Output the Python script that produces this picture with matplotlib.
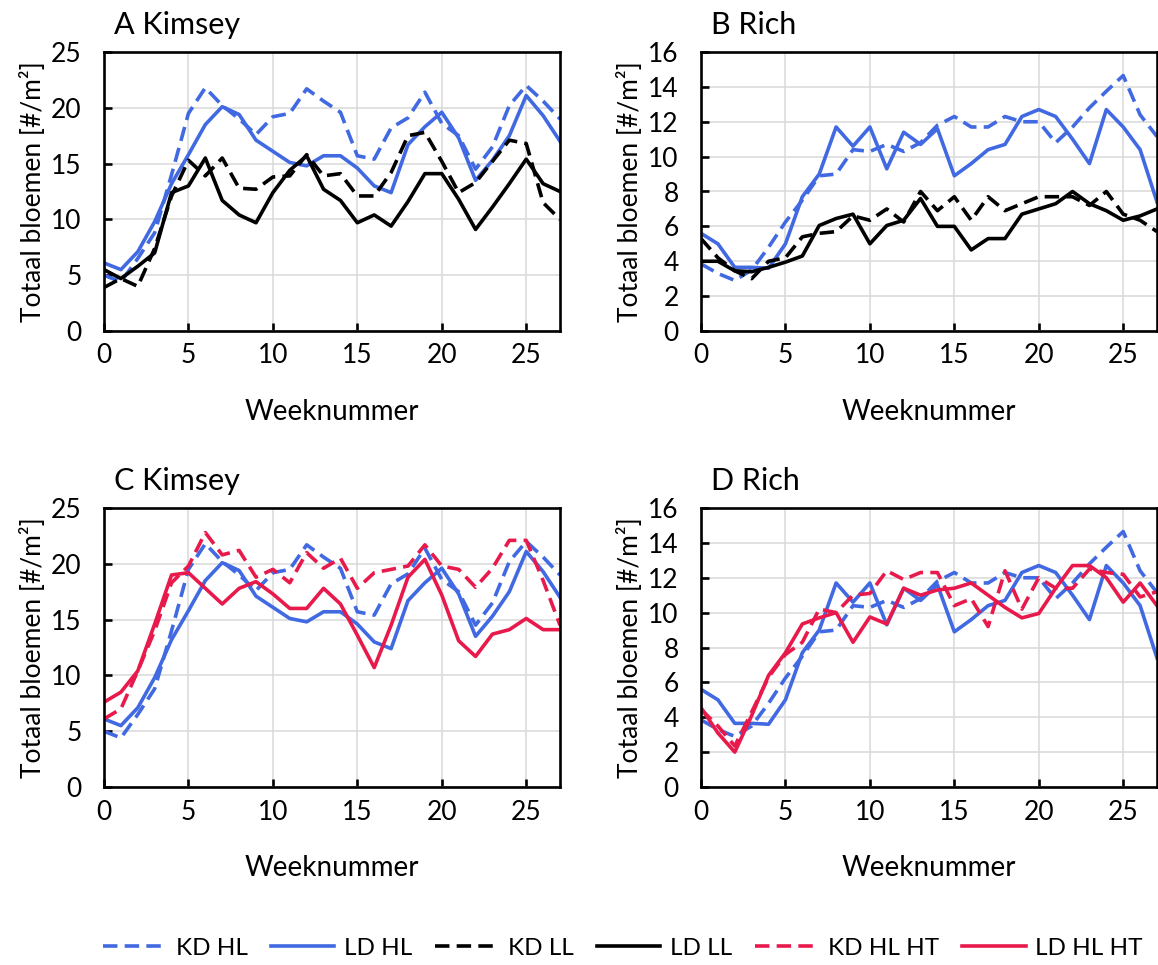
import numpy as np
import matplotlib
matplotlib.use('Agg')
import matplotlib.pyplot as plt
from matplotlib.lines import Line2D

plt.rcParams['font.family'] = ['Lato', 'DejaVu Sans']

# week numbers
weeks = np.arange(0, 28)

# Kimsey (panels A and C)
kim_kd_hl = [5.0, 4.4, 6.5, 8.8, 14.0, 19.5, 21.8, 20.2, 19.0, 17.6, 19.2, 19.5, 21.7, 20.6, 19.6, 15.7,
             15.4, 18.2, 19.1, 21.4, 18.6, 17.5, 14.5, 16.5, 20.2, 22.0, 20.6, 19.0]
kim_ld_hl = [6.1, 5.5, 7.1, 9.8, 13.2, 15.8, 18.5, 20.1, 19.4, 17.1, 16.1, 15.1, 14.8, 15.7, 15.7, 14.6,
             13.0, 12.4, 16.7, 18.3, 19.6, 17.3, 13.5, 15.3, 17.5, 21.1, 19.3, 17.0]
kim_kd_ll = [3.9, 4.7, 4.0, 7.4, 12.1, 15.3, 13.9, 15.5, 12.8, 12.7, 13.8, 13.9, 15.8, 13.9, 14.1, 12.1,
             12.1, 14.2, 17.5, 17.8, 15.2, 12.4, 13.3, 15.2, 17.1, 16.8, 11.5, 10.0]
kim_ld_ll = [5.5, 4.7, 5.8, 7.0, 12.4, 13.0, 15.5, 11.7, 10.4, 9.7, 12.4, 14.4, 15.7, 12.7, 11.7, 9.7,
             10.4, 9.4, 11.6, 14.1, 14.1, 11.8, 9.1, 11.1, 13.2, 15.4, 13.2, 12.5]
kim_kd_hl_ht = [6.1, 7.0, 10.4, 14.0, 18.3, 19.8, 22.8, 20.8, 21.2, 18.8, 19.5, 18.3, 21.0, 19.6, 20.5, 17.8,
                19.2, 19.5, 19.8, 21.7, 19.8, 19.5, 17.9, 19.6, 22.1, 22.1, 18.5, 14.5]
kim_ld_hl_ht = [7.6, 8.5, 10.4, 14.6, 19.0, 19.2, 17.8, 16.4, 17.8, 18.4, 17.3, 16.0, 16.0, 17.8, 16.4, 13.6,
                10.7, 14.5, 18.8, 20.4, 17.2, 13.1, 11.7, 13.7, 14.1, 15.1, 14.1, 14.1]

# Rich (panels B and D)
rich_kd_hl = [3.85, 3.3, 2.9, 3.5, 4.8, 6.25, 7.5, 8.9, 9.0, 10.4, 10.3, 10.7, 10.3, 10.8, 11.8, 12.3,
              11.7, 11.7, 12.3, 12.0, 12.0, 10.8, 11.7, 12.8, 13.75, 14.65, 12.4, 11.15]
rich_ld_hl = [5.6, 5.0, 3.65, 3.65, 3.6, 5.0, 7.7, 9.0, 11.7, 10.6, 11.7, 9.3, 11.4, 10.7, 11.6, 8.9,
              9.6, 10.4, 10.7, 12.3, 12.7, 12.3, 11.0, 9.6, 12.7, 11.7, 10.4, 7.4]
rich_kd_ll = [5.3, 4.2, 3.45, 3.0, 4.0, 4.2, 5.4, 5.6, 5.7, 6.6, 6.35, 7.0, 6.25, 8.0, 6.9, 7.7,
              6.35, 7.7, 6.9, 7.3, 7.7, 7.7, 7.7, 7.2, 8.0, 6.7, 6.35, 5.7]
rich_ld_ll = [4.0, 4.0, 3.45, 3.4, 3.65, 3.95, 4.3, 6.05, 6.45, 6.7, 5.0, 6.05, 6.35, 7.6, 6.0, 6.0,
              4.65, 5.3, 5.3, 6.7, 7.0, 7.3, 8.0, 7.3, 6.9, 6.35, 6.6, 7.0]
rich_kd_hl_ht = [4.45, 3.5, 2.35, 4.3, 6.3, 7.6, 8.3, 10.2, 10.0, 11.0, 11.1, 12.4, 11.9, 12.3, 12.3, 10.4,
                 10.8, 9.2, 12.4, 10.2, 12.0, 11.4, 11.4, 12.5, 12.3, 12.2, 10.9, 11.2]
rich_ld_hl_ht = [4.55, 3.1, 2.0, 4.1, 6.4, 7.7, 9.35, 9.7, 10.0, 8.3, 9.75, 9.35, 11.4, 11.0, 11.3, 11.4,
                 11.7, 11.0, 10.3, 9.7, 9.95, 11.4, 12.7, 12.7, 12.0, 10.6, 11.7, 10.4]

labels = ['KD HL', 'LD HL', 'KD LL', 'LD LL', 'KD HL HT', 'LD HL HT']

blue = '#4169E1'
red = '#E8194B'
dash = (0, (4, 2))
lw = 2.6

styles = {
    'KD HL': (blue, dash),
    'LD HL': (blue, '-'),
    'KD LL': ('black', dash),
    'LD LL': ('black', '-'),
    'KD HL HT': (red, dash),
    'LD HL HT': (red, '-'),
}

W, H = 1158, 965
fig = plt.figure(figsize=(W / 100, H / 100), dpi=100)

def px_axes(left, top, right, bottom):
    return fig.add_axes([left / W, 1 - bottom / H, (right - left) / W, (bottom - top) / H])

axA = px_axes(104, 52, 560, 331)
axB = px_axes(701, 52, 1157, 331)
axC = px_axes(104, 508, 560, 787)
axD = px_axes(701, 508, 1157, 787)

panels = [
    (axA, 'A Kimsey', 25, 5, {'KD HL': kim_kd_hl, 'LD HL': kim_ld_hl, 'KD LL': kim_kd_ll, 'LD LL': kim_ld_ll}),
    (axB, 'B Rich', 16, 2, {'KD HL': rich_kd_hl, 'LD HL': rich_ld_hl, 'KD LL': rich_kd_ll, 'LD LL': rich_ld_ll}),
    (axC, 'C Kimsey', 25, 5, {'KD HL': kim_kd_hl, 'LD HL': kim_ld_hl,
                              'KD HL HT': kim_kd_hl_ht, 'LD HL HT': kim_ld_hl_ht}),
    (axD, 'D Rich', 16, 2, {'KD HL': rich_kd_hl, 'LD HL': rich_ld_hl,
                            'KD HL HT': rich_kd_hl_ht, 'LD HL HT': rich_ld_hl_ht}),
]

for ax, title, ymax, ystep, series in panels:
    for name, vals in series.items():
        color, ls = styles[name]
        ax.plot(weeks, vals, color=color, linestyle=ls, lw=lw)
    ax.set_xlim(0, 27)
    ax.set_ylim(0, ymax)
    ax.set_xticks(np.arange(0, 27, 5))
    ax.set_yticks(np.arange(0, ymax + 1, ystep))
    ax.grid(True, color='#D9D9D9', lw=1.1)
    ax.set_axisbelow(True)
    for s in ax.spines.values():
        s.set_color('black')
        s.set_linewidth(1.9)
    ax.tick_params(direction='in', length=6, width=1.9, labelsize=19)
    ax.tick_params(axis='y', pad=16)
    ax.tick_params(axis='x', pad=9)
    ax.set_xlabel('Weeknummer', fontsize=20, labelpad=22)
    ax.set_ylabel('Totaal bloemen [#/m²]', fontsize=19, labelpad=4)
    ax.text(0.022, 1.064, title, transform=ax.transAxes, fontsize=22, va='baseline', ha='left')

handles = [Line2D([0], [0], color=styles[n][0], linestyle=styles[n][1], lw=lw) for n in labels]
fig.legend(handles, labels, loc='center', bbox_to_anchor=(0.538, 1 - 948 / H), ncol=6, frameon=False,
           fontsize=17.5, handlelength=2.6, handletextpad=0.4, columnspacing=0.95)

fig.savefig('out.png', dpi=100)
